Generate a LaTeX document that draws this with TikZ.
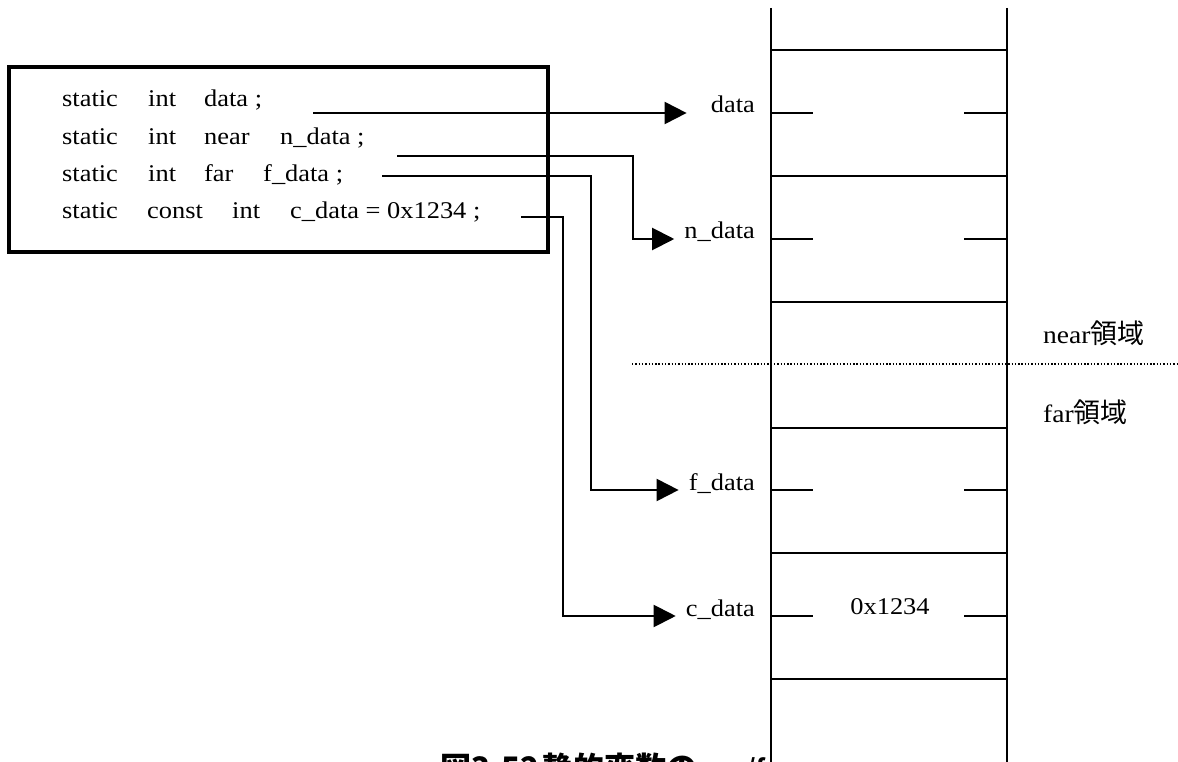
\documentclass[tikz,border=0pt]{standalone}
\usepackage{fontspec}
\setmainfont{Liberation Serif}[FakeStretch=1.1]
\newfontfamily\cjk{Noto Sans CJK JP}
\usetikzlibrary{arrows.meta, calc}

% fixed-width column for the code words
\newcommand{\colw}[2]{\makebox[#1][l]{#2}}

\begin{document}
\begin{tikzpicture}[x=1pt, y=-1pt,
    code/.style={anchor=base west, inner sep=0pt, font=\fontsize{24}{28}\selectfont},
    lbl/.style={anchor=base east, inner sep=0pt, font=\fontsize{24}{28}\selectfont},
    area/.style={anchor=base west, inner sep=0pt, font=\fontsize{25}{28}\selectfont},
    conn/.style={line width=2pt, -{Triangle[length=22pt,width=22pt]}},
    cell/.style={line width=2pt},
    mem/.style={line width=2.2pt}]

        \useasboundingbox (0,0) rectangle (1178,762);
        \clip (0,0) rectangle (1178,762);

        % ===================================================
        % Source code box
        % ===================================================
        \draw[line width=3.5pt] (9,67) rectangle (548,252);

        \node[code] (l1) at (62,107) {\colw{86pt}{static}\colw{56pt}{int}data ;};
        \node[code] (l2) at (62,144.5) {\colw{86pt}{static}\colw{56pt}{int}\colw{76pt}{near}n\_data ;};
        \node[code] (l3) at (62,181.5) {\colw{86pt}{static}\colw{56pt}{int}\colw{59pt}{far}f\_data ;};
        \node[code] (l4) at (62,218.5) {\colw{85pt}{static}\colw{85pt}{const}\colw{58pt}{int}c\_data = 0x1234 ;};

        % start points of the connectors
        \coordinate (s1) at (313,113);
        \coordinate (s2) at (397,156);
        \coordinate (s3) at (382,176);
        \coordinate (s4) at (521,217);

        % ===================================================
        % Memory column
        % ===================================================
        \draw[mem] (771,8) -- (771,762);
        \draw[mem] (1007,8) -- (1007,762);
        \foreach \y in {50,176,302,428,553,679}
            \draw[cell] (771,\y) -- (1007,\y);
        \foreach \y in {113,239,490,616} {
            \draw[cell] (771,\y) -- (813,\y);
            \draw[cell] (964,\y) -- (1007,\y);
        }

        \node[anchor=base, inner sep=0pt, font=\fontsize{24}{28}\selectfont] (val) at (890,614) {0x1234};

        % ===================================================
        % Variable labels
        % ===================================================
        \node[lbl] (ldata) at (755,113) {data};
        \node[lbl] (lndata) at (755,239) {n\_data};
        \node[lbl] (lfdata) at (755,490) {f\_data};
        \node[lbl] (lcdata) at (755,616) {c\_data};

        % ===================================================
        % Connectors
        % ===================================================
        \draw[conn, shorten >=24pt] (s1) -- (ldata.base west);
        \draw[conn, shorten >=10pt] (s2) -- ++(236,0) |- (lndata.base west);
        \draw[conn, shorten >=10pt] (s3) -- ++(209,0) |- (lfdata.base west);
        \draw[conn, shorten >=10pt] (s4) -- ++(42,0) |- (lcdata.base west);

        % ===================================================
        % near / far boundary
        % ===================================================
        \draw[line width=1.4pt, dash pattern=on 1.4pt off 1.9pt] (632,364) -- (1178,364);
        \node[area] (nearlbl) at (1043,343) {near{\cjk\fontsize{27}{28}\selectfont 領域}};
        \node[area] (farlbl) at (1043,422) {far{\cjk\fontsize{27}{28}\selectfont 領域}};

        % caption, cut off by the lower edge
        \node[anchor=base west, inner sep=0pt, font=\cjk\bfseries\fontsize{31}{32}\selectfont] (cap) at (440,779)
            {図3-52\hspace{3pt}静的変数の{\fontsize{22}{24}\selectfont\raisebox{4pt}{near/far}}};

    \end{tikzpicture}
\end{document}
